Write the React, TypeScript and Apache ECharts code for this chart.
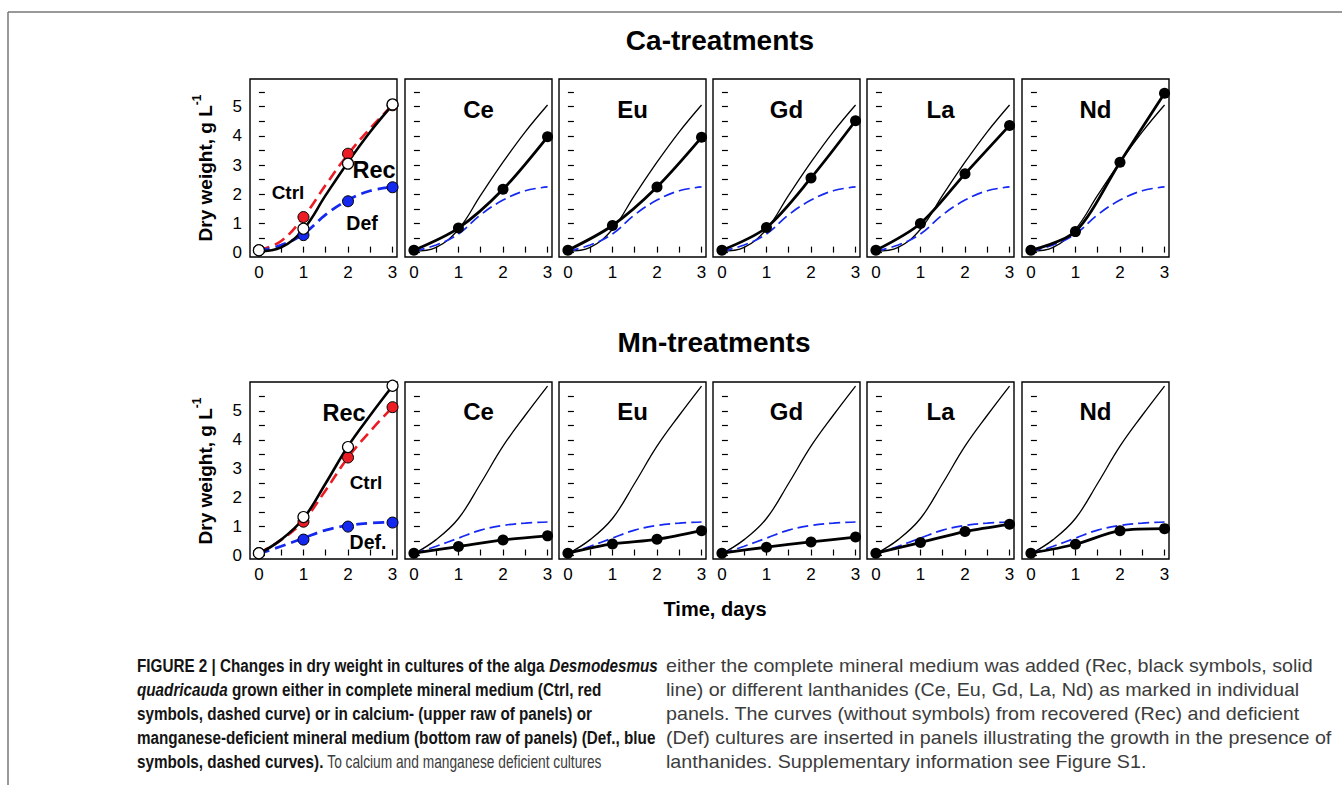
import React, { useEffect, useRef } from "react";
import * as echarts from "echarts";

// ---------- data ----------
const days = [0, 1, 2, 3];
const fitDays = [0, 0.5, 1, 1.5, 2, 2.5, 3];
const xTicks = [0, 0.5, 1, 1.5, 2, 2.5, 3];
const xTickLabels = [0, 1, 2, 3];
const yTicks = [0, 0.5, 1, 1.5, 2, 2.5, 3, 3.5, 4, 4.5, 5, 5.5];
const yTickLabels = [0, 1, 2, 3, 4, 5];
const elements = ["Ce", "Eu", "Gd", "La", "Nd"];

// Ca-treatments
const caCtrlPts = [0.08, 1.22, 3.39, 5.05];
const caRecPts = [0.08, 0.82, 3.05, 5.08];
const caDefPts = [0.08, 0.6, 1.76, 2.24];
const caCtrlFit = [0.08, 0.4, 1.22, 2.32, 3.37, 4.26, 5.05];
const caRecFit = [0.05, 0.18, 0.8, 1.97, 3.1, 4.14, 5.06];
const caDefFit = [0.05, 0.26, 0.64, 1.3, 1.8, 2.12, 2.25];
const caCe = [0.08, 0.84, 2.17, 3.97];
const caEu = [0.08, 0.93, 2.25, 3.95];
const caGd = [0.08, 0.86, 2.56, 4.52];
const caLa = [0.08, 1.0, 2.7, 4.36];
const caNd = [0.08, 0.72, 3.1, 5.46];

// Mn-treatments
const mnCtrlPts = [0.08, 1.17, 3.39, 5.13];
const mnRecPts = [0.08, 1.33, 3.75, 5.87];
const mnDefPts = [0.08, 0.55, 1.0, 1.14];
const mnCtrlFit = [0.08, 0.54, 1.2, 2.26, 3.39, 4.3, 5.13];
const mnRecFit = [0.06, 0.55, 1.28, 2.5, 3.78, 4.85, 5.86];
const mnDefFit = [0.06, 0.32, 0.6, 0.88, 1.04, 1.12, 1.16];
const mnCe = [0.08, 0.31, 0.54, 0.68];
const mnEu = [0.08, 0.4, 0.56, 0.86];
const mnGd = [0.08, 0.29, 0.47, 0.64];
const mnLa = [0.08, 0.45, 0.83, 1.08];
const mnNd = [0.08, 0.39, 0.86, 0.93];

const captionLeft: [string, string][][] = [
  [["b", "FIGURE 2 | Changes in dry weight in cultures of the alga "], ["bi", "Desmodesmus"]],
  [["bi", "quadricauda"], ["b", " grown either in complete mineral medium (Ctrl, red"]],
  [["b", "symbols, dashed curve) or in calcium- (upper raw of panels) or"]],
  [["b", "manganese-deficient mineral medium (bottom raw of panels) (Def., blue"]],
  [["b", "symbols, dashed curves)."], ["r", " To calcium and manganese deficient cultures"]],
];
const captionRight: string[] = [
  "either the complete mineral medium was added (Rec, black symbols, solid",
  "line) or different lanthanides (Ce, Eu, Gd, La, Nd) as marked in individual",
  "panels. The curves (without symbols) from recovered (Rec) and deficient",
  "(Def) cultures are inserted in panels illustrating the growth in the presence of",
  "lanthanides. Supplementary information see Figure S1.",
];

// ---------- layout ----------
const FONT = "Liberation Sans, Arial, Helvetica, sans-serif";
const RED = "#ec1c24";
const BLUE = "#1428f0";
const panelLefts = [250, 405, 559, 713, 867, 1022];
const PANEL_W = 147;
const rows = [
  { top: 79, h: 178, yMin: -0.15, yMax: 5.95 },
  { top: 382, h: 177, yMin: -0.12, yMax: 6.0 },
];
const CAP_LEFT_X = 137;
const CAP_RIGHT_X = 666;
const CAP_TOP = 666;
const CAP_LINE = 24;
const CAP_L1_WIDTH = 521; // width of the first bold line
const CAP_R1_WIDTH = 647; // width of the first line of the right column
const CAP_L5_END = 602; // right end of the last line of the left column

const pairs = (xs: number[], ys: number[]) => xs.map((x, i) => [x, ys[i]]);

const capStyles: Record<string, { size: number; weight: string; style: string; fill: string }> = {
  b: { size: 18.5, weight: "bold", style: "normal", fill: "#141414" },
  bi: { size: 18.5, weight: "bold", style: "italic", fill: "#141414" },
  r: { size: 18, weight: "normal", style: "normal", fill: "#3c3c3c" },
};

function buildOption() {
  const grid: any[] = [];
  const xAxis: any[] = [];
  const yAxis: any[] = [];
  const series: any[] = [];
  const graphic: any[] = [];

  const rowData = [
    {
      ctrlPts: caCtrlPts, recPts: caRecPts, defPts: caDefPts,
      ctrlFit: caCtrlFit, recFit: caRecFit, defFit: caDefFit,
      lan: [caCe, caEu, caGd, caLa, caNd],
    },
    {
      ctrlPts: mnCtrlPts, recPts: mnRecPts, defPts: mnDefPts,
      ctrlFit: mnCtrlFit, recFit: mnRecFit, defFit: mnDefFit,
      lan: [mnCe, mnEu, mnGd, mnLa, mnNd],
    },
  ];

  rows.forEach((row, r) => {
    const d = rowData[r];
    panelLefts.forEach((left, p) => {
      const gi = grid.length;
      grid.push({
        left, top: row.top, width: PANEL_W, height: row.h,
        show: true, borderColor: "#000", borderWidth: 1.4, backgroundColor: "transparent",
      });
      xAxis.push({
        type: "value", gridIndex: gi, min: -0.2, max: 3.1,
        axisLine: { show: false }, splitLine: { show: false },
        axisTick: { show: true, inside: true, length: 6, customValues: xTicks, lineStyle: { color: "#000", width: 1.2 } },
        axisLabel: { show: true, customValues: xTickLabels, fontSize: 17, color: "#000", margin: 7, fontFamily: FONT },
      });
      yAxis.push({
        type: "value", gridIndex: gi, min: row.yMin, max: row.yMax,
        axisLine: { show: false }, splitLine: { show: false },
        axisTick: { show: true, inside: true, length: 6, customValues: yTicks, lineStyle: { color: "#000", width: 1.2 } },
        axisLabel: { show: p === 0, customValues: yTickLabels, fontSize: 17, color: "#000", margin: 8, fontFamily: FONT },
      });
      const base = { xAxisIndex: gi, yAxisIndex: gi, silent: true };
      if (p === 0) {
        series.push({ ...base, type: "line", data: pairs(fitDays, d.ctrlFit), smooth: 0.4, symbol: "none",
          lineStyle: { color: RED, width: 2.6, type: [11, 6] }, z: 2 });
        series.push({ ...base, type: "line", data: pairs(fitDays, d.defFit), smooth: 0.4, symbol: "none",
          lineStyle: { color: BLUE, width: 2.8, type: [11, 6] }, z: 2 });
        series.push({ ...base, type: "line", data: pairs(fitDays, d.recFit), smooth: 0.4, symbol: "none",
          lineStyle: { color: "#000", width: 2.6 }, z: 3 });
        series.push({ ...base, type: "scatter", data: pairs(days, d.ctrlPts), symbolSize: 11,
          itemStyle: { color: RED, borderColor: "#000", borderWidth: 1, opacity: 1 }, z: 4 });
        series.push({ ...base, type: "scatter", data: pairs(days, d.defPts), symbolSize: 11,
          itemStyle: { color: BLUE, borderColor: "#000", borderWidth: 1, opacity: 1 }, z: 4 });
        series.push({ ...base, type: "scatter", data: pairs(days, d.recPts), symbolSize: 11,
          itemStyle: { color: "#fff", borderColor: "#000", borderWidth: 1.2, opacity: 1 }, z: 5 });
      } else {
        series.push({ ...base, type: "line", data: pairs(fitDays, d.recFit), smooth: 0.4, symbol: "none",
          lineStyle: { color: "#000", width: 1.3 }, z: 2 });
        series.push({ ...base, type: "line", data: pairs(fitDays, d.defFit), smooth: 0.4, symbol: "none",
          lineStyle: { color: BLUE, width: 1.7, type: [11, 5] }, z: 2 });
        series.push({ ...base, type: "line", data: pairs(days, d.lan[p - 1]), smooth: 0.3, symbol: "circle",
          symbolSize: 11, showAllSymbol: true, itemStyle: { color: "#000" },
          lineStyle: { color: "#000", width: 2.8 }, z: 3 });
        graphic.push({
          type: "text", x: left + PANEL_W / 2, y: row.top + (r === 0 ? 30 : 29),
          style: { text: elements[p - 1], fontSize: 24, fontWeight: "bold", fontFamily: FONT, fill: "#000",
            align: "center", verticalAlign: "middle" },
        });
      }
    });
  });

  // frame
  graphic.push({ type: "line", shape: { x1: 8, y1: 12, x2: 1342, y2: 12 }, style: { stroke: "#777", lineWidth: 1.5 } });
  graphic.push({ type: "line", shape: { x1: 8, y1: 12, x2: 8, y2: 785 }, style: { stroke: "#777", lineWidth: 1.5 } });

  const txt = (text: string, x: number, y: number, size: number) => ({
    type: "text", x, y,
    style: { text, fontSize: size, fontWeight: "bold", fontFamily: FONT, fill: "#000",
      align: "center", verticalAlign: "middle" },
  });
  graphic.push(txt("Ca-treatments", 720, 40, 28));
  graphic.push(txt("Mn-treatments", 714, 342, 28));
  graphic.push(txt("Time, days", 715, 609, 20));

  // panel-1 annotations
  graphic.push(txt("Ctrl", 288, 192, 19));
  graphic.push(txt("Rec", 374, 170, 23.5));
  graphic.push(txt("Def", 362, 223, 19.5));
  graphic.push(txt("Rec", 344, 413, 23.5));
  graphic.push(txt("Ctrl", 366, 482, 19));
  graphic.push(txt("Def.", 368, 542, 19.5));

  // y axis names
  [168, 471].forEach((cy) => {
    graphic.push({
      type: "text", x: 203, y: cy, rotation: Math.PI / 2,
      style: {
        text: "{m|Dry weight, g L}{s|-1}",
        align: "center", verticalAlign: "middle",
        rich: {
          m: { fontSize: 19, fontWeight: "bold", fontFamily: FONT, fill: "#000", lineHeight: 24, verticalAlign: "bottom" },
          s: { fontSize: 12, fontWeight: "bold", fontFamily: FONT, fill: "#000", lineHeight: 14, verticalAlign: "top" },
        },
      },
    });
  });

  // caption (condensed via horizontal scaling of Liberation Sans)
  const ctx = document.createElement("canvas").getContext("2d") as CanvasRenderingContext2D;
  const fontOf = (k: string) => `${capStyles[k].style} ${capStyles[k].weight} ${capStyles[k].size}px ${FONT}`;
  const measure = (k: string, t: string) => {
    ctx.font = fontOf(k);
    return ctx.measureText(t).width;
  };
  const boldScale = CAP_L1_WIDTH / captionLeft[0].reduce((s, [k, t]) => s + measure(k, t), 0);
  const regScale = CAP_R1_WIDTH / measure("r", captionRight[0]);
  const pushPart = (k: string, t: string, x: number, y: number, scale: number) => {
    graphic.push({
      type: "text", x, y, scaleX: scale,
      style: {
        text: t, fontSize: capStyles[k].size, fontWeight: capStyles[k].weight, fontStyle: capStyles[k].style,
        fontFamily: FONT, fill: capStyles[k].fill, align: "left", verticalAlign: "middle",
      },
    });
    return measure(k, t) * scale;
  };
  captionLeft.forEach((parts, i) => {
    let x = CAP_LEFT_X;
    parts.forEach(([k, t]) => {
      const scale = k === "r" ? (CAP_L5_END - x) / measure(k, t) : boldScale;
      x += pushPart(k, t, x, CAP_TOP + i * CAP_LINE, scale);
    });
  });
  captionRight.forEach((t, i) => {
    pushPart("r", t, CAP_RIGHT_X, CAP_TOP + i * CAP_LINE, regScale);
  });

  return {
    animation: false,
    backgroundColor: "#fff",
    grid, xAxis, yAxis, series, graphic,
  };
}

export default function App() {
  const ref = useRef<HTMLDivElement>(null);
  useEffect(() => {
    if (!ref.current) return;
    const chart = echarts.init(ref.current, null, { renderer: "svg" });
    chart.setOption(buildOption() as any);
    return () => chart.dispose();
  }, []);
  return (
    <div
      ref={ref}
      style={{ position: "absolute", left: 0, top: 0, width: 1342, height: 785, background: "#fff" }}
    />
  );
}
